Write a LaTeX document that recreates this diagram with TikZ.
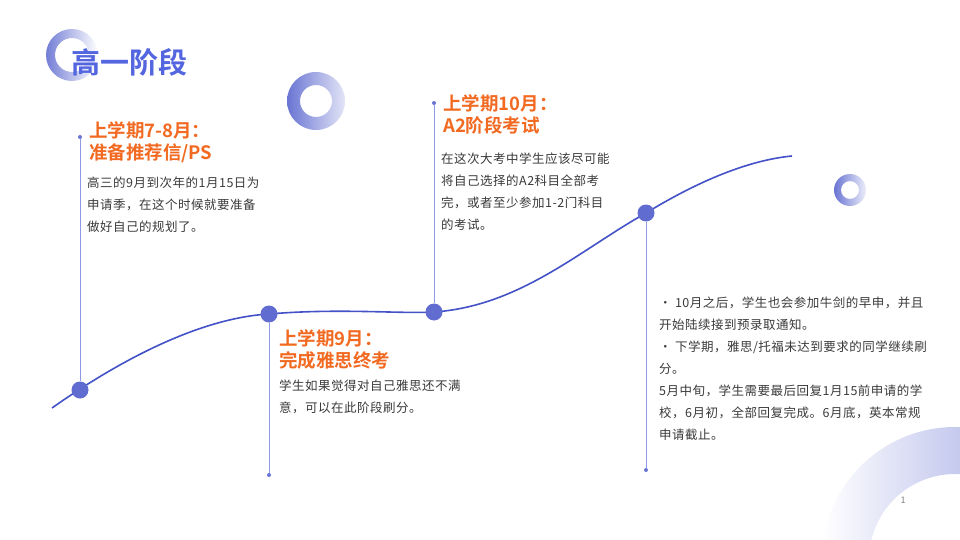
\documentclass[tikz,border=0pt]{standalone}
\usepackage{fontspec}
\setmainfont{Noto Sans CJK SC}[LetterSpace=4]
\newfontfamily\cjkb{Noto Sans CJK SC Bold}
\usetikzlibrary{shadings}
\definecolor{blu}{HTML}{4452C8}
\definecolor{ttlblu}{HTML}{5366E0}
\definecolor{lblu}{HTML}{8F9BE8}
\definecolor{org}{HTML}{F26A21}
\definecolor{txt}{HTML}{3A3A3A}
\begin{document}
\begin{tikzpicture}[x=1pt,y=-1pt,
  bigdot/.style={circle,fill=blu!85!white,inner sep=0pt,minimum size=17pt},
  tinydot/.style={circle,fill=blu!80!white,inner sep=0pt,minimum size=4pt},
  vline/.style={draw=lblu,line width=0.8pt},
  ttl/.style={font=\cjkb\fontsize{18.5}{22}\selectfont,text=org,anchor=north west,align=left,inner sep=0pt},
  body/.style={font=\fontsize{12.5}{22}\selectfont,text=txt,anchor=north west,align=left,inner sep=0pt}]
\useasboundingbox (0,0) rectangle (960,540);
\fill[white] (0,0) rectangle (960,540);
% decorative rings
\shade[left color=blu!75!white,right color=white,even odd rule] (72,55) circle (26) (72,55) circle (17);
\shade[left color=blu!80!white,right color=blu!15!white,even odd rule] (316,101) circle (29) (316,101) circle (16);
\shade[left color=blu!80!white,right color=blu!10!white,even odd rule] (850,190) circle (16) (850,190) circle (9);
\begin{scope}
\clip (0,0) rectangle (960,540);
\shade[left color=white,right color=blu!60!white,even odd rule] (955,560) circle (133) (955,560) circle (86);
\end{scope}
\node[font=\cjkb\fontsize{29}{32}\selectfont,text=ttlblu,anchor=west,inner sep=0pt] (title) at (71,62) {高一阶段};
% curve
\draw[blu,line width=1.6pt] (52,408) .. controls (120,360) and (200,318) .. (269,314)
  .. controls (340,308) and (400,314) .. (434,312)
  .. controls (520,306) and (580,250) .. (646,213)
  .. controls (700,180) and (750,160) .. (792,156);
\node[bigdot] (d1) at (80,390) {};
\node[bigdot] (d2) at (269,314) {};
\node[bigdot] (d3) at (434,312) {};
\node[bigdot] (d4) at (646,213) {};
\node[tinydot] (e1) at (80,137) {};
\node[tinydot] (e2) at (269,475) {};
\node[tinydot] (e3) at (434,103) {};
\node[tinydot] (e4) at (646,470) {};
\draw[vline] (d1) -- (e1);
\draw[vline] (d2) -- (e2);
\draw[vline] (d3) -- (e3);
\draw[vline] (d4) -- (e4);
% texts
\node[ttl] (t1) at (89,121) {上学期7-8月：\\准备推荐信/PS};
\node[body] (b1) at (87,177) {高三的9月到次年的1月15日为\\申请季，在这个时候就要准备\\做好自己的规划了。};
\node[ttl] (t2) at (279,329) {上学期9月：\\完成雅思终考};
\node[body] (b2) at (279,380) {学生如果觉得对自己雅思还不满\\意，可以在此阶段刷分。};
\node[ttl] (t3) at (443,94) {上学期10月：\\A2阶段考试};
\node[body] (b3) at (441,153) {在这次大考中学生应该尽可能\\将自己选择的A2科目全部考\\完，或者至少参加1-2门科目\\的考试。};
\node[body] (b4) at (659,297) {• 10月之后，学生也会参加牛剑的早申，并且\\开始陆续接到预录取通知。\\• 下学期，雅思/托福未达到要求的同学继续刷\\分。\\5月中旬，学生需要最后回复1月15前申请的学\\校，6月初，全部回复完成。6月底，英本常规\\申请截止。};
\node[font=\fontsize{9}{10}\selectfont,text=gray] (pg) at (903,500) {1};
\end{tikzpicture}
\end{document}
